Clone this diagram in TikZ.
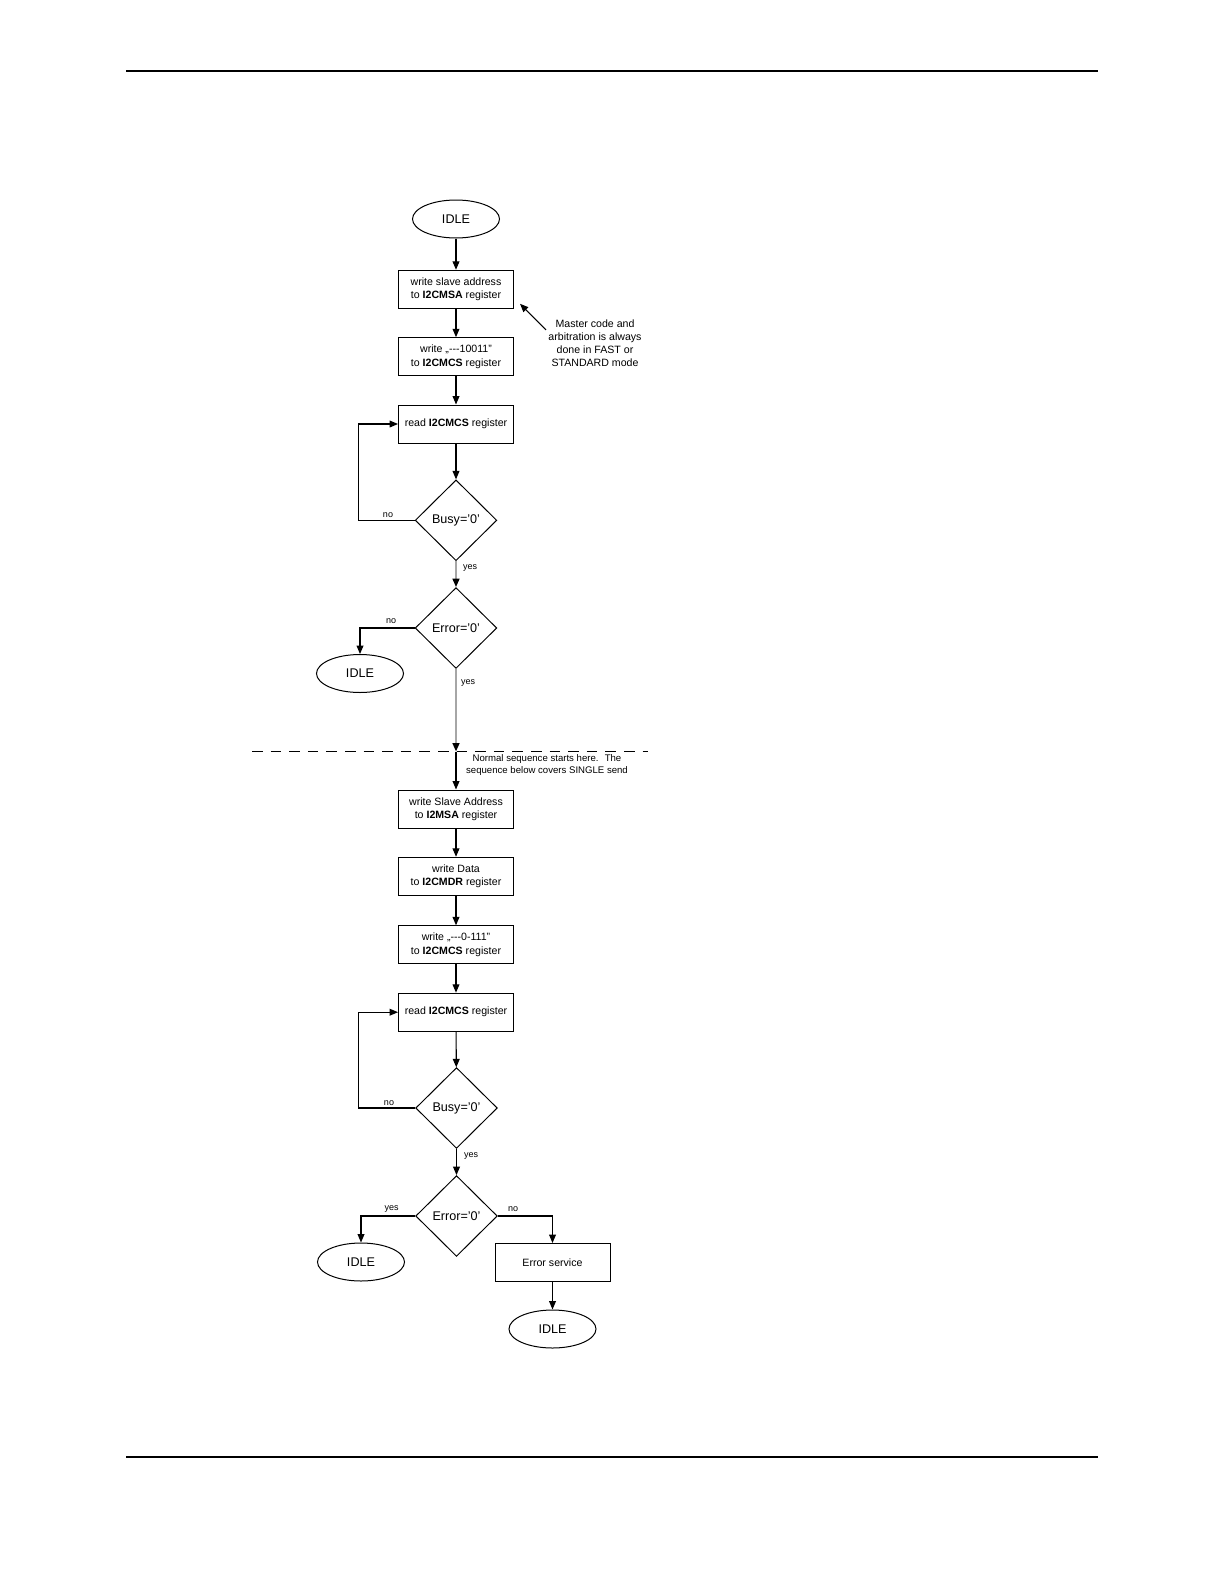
\documentclass[tikz,border=0pt]{standalone}
\usepackage{fontspec}
\setmainfont{Liberation Sans}[Ligatures=TeXOff]
\usetikzlibrary{
  calc,
  positioning,
  arrows.meta,
  shapes.geometric
}

\begin{document}
\begin{tikzpicture}[x=0.5pt,y=-0.5pt,> ={Triangle[length=4.2pt,width=3.4pt]}]
  \tikzset{
    box/.style={
      draw,line width=0.5pt,minimum width=57.5pt,minimum height=19pt,
      inner sep=0pt,align=center,font=\fontsize{5.3}{6.6}\selectfont
    },
    term/.style={
      draw,ellipse,line width=0.5pt,minimum width=43.5pt,minimum height=19pt,
      inner sep=0pt,font=\fontsize{6.3}{7.5}\selectfont
    },
    decision/.style={
      draw,diamond,line width=0.5pt,minimum width=40.8pt,minimum height=40.4pt,
      inner sep=0pt,font=\fontsize{6.3}{7.5}\selectfont
    },
    flow/.style={->,line width=0.55pt},
    grayflow/.style={-{Triangle[length=4.2pt,width=3.4pt,color=black]},
      line width=0.9pt,draw=gray!70},
    lbl/.style={inner sep=0pt,font=\fontsize{4.5}{5.4}\selectfont},
    note/.style={inner sep=1pt,align=center},
  }
  \useasboundingbox (0,0) rectangle (1224,1584);

  % page rules
  \draw[line width=1.3pt] (126,71) -- (1098,71);
  \draw[line width=1.3pt] (126,1457) -- (1098,1457);

  % arbitration part
  \node[term] (idleA) at (456,219) {IDLE};
  \node[box] (wsa) at (456,289.3) {write slave address\\to \textbf{I2CMSA} register};
  \node[box] (wcs) at (456,356.7) {write „---10011”\\to \textbf{I2CMCS} register};
  \node[box] (rcs) at (456,424) {read \textbf{I2CMCS} register};
  \node[decision] (busyA) at (456,520.3) {Busy=’0’};
  \node[decision] (errA) at (456,628) {Error=’0’};
  \node[term] (idleB) at (360,673.5) {IDLE};
  \node[note,font=\fontsize{5.3}{6.5}\selectfont] (arbnote) at (595,343)
    {Master code and\\arbitration is always\\done in FAST or\\STANDARD mode};

  \node[lbl] (noA) at (388,515) {no};
  \node[lbl] (yesA) at (470,568) {yes};
  \node[lbl] (noB) at (391,621) {no};
  \node[lbl] (yesB) at (468,683) {yes};

  \draw[flow] (idleA) -- (wsa);
  \draw[flow] (wsa) -- (wcs);
  \draw[flow] (wcs) -- (rcs);
  \draw[flow] (rcs) -- (busyA);
  \draw[flow] (busyA.west) -- ++(-56,0) |- (rcs.west);
  \draw[grayflow] (busyA) -- (errA);
  \draw[flow] (errA.west) -| (idleB.north);
  \draw[->,line width=0.55pt] (arbnote.165) -- ($(wsa.south east)+(6,-5)$);

  % start of normal sequence
  \coordinate (dashL) at (252,751.5);
  \coordinate (dashR) at (648,751.5);
  \coordinate (split) at (456,751.5);
  \draw[dash pattern=on 5.3pt off 4pt,line width=0.6pt] (dashL) -- (dashR);
  \draw[grayflow] (errA) -- (split);
  \node[note,font=\fontsize{4.8}{5.85}\selectfont] (seqnote) at (547,765)
    {Normal sequence starts here.~ The\\sequence below covers SINGLE send};

  % single send
  \node[box] (wSA) at (456,809) {write Slave Address\\to \textbf{I2MSA} register};
  \node[box] (wdr) at (456,876.3) {write Data\\to \textbf{I2CMDR} register};
  \node[box] (wcs2) at (456,944.8) {write „---0-111”\\to \textbf{I2CMCS} register};
  \node[box] (rcs2) at (456,1012.2) {read \textbf{I2CMCS} register};
  \node[decision] (busyB) at (456.5,1108) {Busy=’0’};
  \node[decision] (errB) at (456.5,1216) {Error=’0’};
  \node[term] (idleC) at (361,1262) {IDLE};
  \node[box] (errsvc) at (552.5,1262.5) {Error service};
  \node[term] (idleD) at (552.5,1329) {IDLE};

  \node[lbl] (noC) at (389,1103) {no};
  \node[lbl] (yesC) at (471,1156) {yes};
  \node[lbl] (yesD) at (391.5,1209) {yes};
  \node[lbl] (noD) at (513,1209) {no};

  \draw[flow] (split) -- (wSA);
  \draw[flow] (wSA) -- (wdr);
  \draw[flow] (wdr) -- (wcs2);
  \draw[flow] (wcs2) -- (rcs2);
  \draw[flow] (rcs2) -- (busyB);
  \draw[flow] (busyB.west) -- ++(-57,0) |- (rcs2.west);
  \draw[flow] (busyB) -- (errB);
  \draw[flow] (errB.west) -| (idleC.north);
  \draw[flow] (errB.east) -| (errsvc.north);
  \draw[flow] (errsvc) -- (idleD);
\end{tikzpicture}
\end{document}
